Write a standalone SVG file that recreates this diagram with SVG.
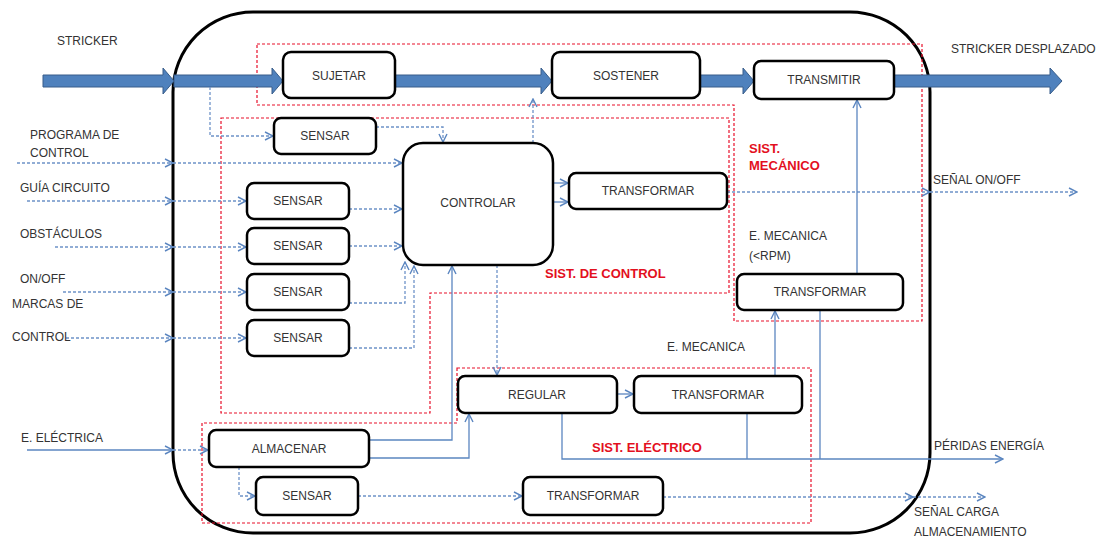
<svg xmlns="http://www.w3.org/2000/svg" width="1113" height="540" viewBox="0 0 1113 540">
<style>
.box{fill:#fff;stroke:#000;stroke-width:2.5}
.t{font-family:"Liberation Sans",Arial,sans-serif;font-size:12px;fill:#333}
.c{text-anchor:middle}
.red{font-family:"Liberation Sans",Arial,sans-serif;font-size:13px;font-weight:bold;fill:#E3101E}
.reg{fill:none;stroke:#E8102A;stroke-width:1.2;stroke-dasharray:3 2}
.sl{fill:none;stroke:#5B86C0;stroke-width:1.3}
.dl{fill:none;stroke:#6E93C8;stroke-width:1.3;stroke-dasharray:3 2}
.big{fill:#4F81BD;stroke:#385D8A;stroke-width:1}
</style>
<defs>
<marker id="ah" viewBox="0 0 10 10" refX="9" refY="5" markerWidth="10" markerHeight="10" markerUnits="userSpaceOnUse" orient="auto"><path d="M1,1 L9,5 L1,9" fill="none" stroke="#5B86C0" stroke-width="1.4"/></marker>
</defs>
<rect width="1113" height="540" fill="#fff"/>
<!-- outer boundary -->
<rect id="system" x="173" y="12" width="757" height="521" rx="80" ry="80" fill="none" stroke="#000" stroke-width="3"/>
<!-- subsystem regions -->
<g id="regions">
<path class="reg" d="M257,44 H922 V321 H734 V105 H257 Z"/>
<path class="reg" d="M221,118 H729 V293 H430 V413 H221 Z"/>
<path class="reg" d="M457,368 H811 V523 H202 V423 H457 Z"/>
<text class="red" x="749" y="153">SIST.</text>
<text class="red" x="749" y="170">MECÁNICO</text>
<text class="red" x="545" y="278">SIST. DE CONTROL</text>
<text class="red" x="592" y="452">SIST. ELÉCTRICO</text>
</g>
<!-- big stricker arrows -->
<g id="stricker-flow">
<path class="big" d="M43,75 H163 V68 L174,81 L163,94 V87 H43 Z"/>
<path class="big" d="M174,75 H272 V68 L283,81 L272,94 V87 H174 Z"/>
<path class="big" d="M395,75 H541 V68 L552,81 L541,94 V87 H395 Z"/>
<path class="big" d="M700,75 H743 V68 L754,81 L743,94 V87 H700 Z"/>
<path class="big" d="M894,75 H1050 V68 L1062,81 L1050,94 V87 H894 Z"/>
</g>
<!-- connectors -->
<g id="connectors">
<path class="dl" d="M210,87 V136 H273" marker-end="url(#ah)"/>
<path class="dl" d="M17,163 H173" marker-end="url(#ah)"/>
<path class="dl" d="M173,163 H402" marker-end="url(#ah)"/>
<path class="dl" d="M376,127 H443 V142" marker-end="url(#ah)"/>
<path class="dl" d="M27,201 H173" marker-end="url(#ah)"/>
<path class="dl" d="M173,201 H246" marker-end="url(#ah)"/>
<path class="dl" d="M55,247 H173" marker-end="url(#ah)"/>
<path class="dl" d="M173,247 H246" marker-end="url(#ah)"/>
<path class="dl" d="M63,292 H173" marker-end="url(#ah)"/>
<path class="dl" d="M173,292 H246" marker-end="url(#ah)"/>
<path class="dl" d="M66,338 H173" marker-end="url(#ah)"/>
<path class="dl" d="M173,338 H246" marker-end="url(#ah)"/>
<path class="dl" d="M349,209 H402" marker-end="url(#ah)"/>
<path class="dl" d="M349,246 H402" marker-end="url(#ah)"/>
<path class="dl" d="M349,303 H405 V262" marker-end="url(#ah)"/>
<path class="dl" d="M349,348 H414 V266" marker-end="url(#ah)"/>
<path class="dl" d="M533,143 V99" marker-end="url(#ah)"/>
<path class="sl" d="M553,183 H568" marker-end="url(#ah)"/>
<path class="sl" d="M553,202 H568" marker-end="url(#ah)"/>
<path class="dl" d="M727,192 H930" marker-end="url(#ah)"/>
<path class="dl" d="M930,192 H1077" marker-end="url(#ah)"/>
<path class="dl" d="M497,265 V375" marker-end="url(#ah)"/>
<path class="sl" d="M27,450 H173" marker-end="url(#ah)"/>
<path class="dl" d="M173,450 H208" marker-end="url(#ah)"/>
<path class="dl" d="M239,467 V496 H255" marker-end="url(#ah)"/>
<path class="dl" d="M358,496 H522" marker-end="url(#ah)"/>
<path class="dl" d="M663,497 H913" marker-end="url(#ah)"/>
<path class="dl" d="M913,497 H985" marker-end="url(#ah)"/>
<path class="sl" d="M369,440 H452 V266" marker-end="url(#ah)"/>
<path class="sl" d="M369,458 H469 V414" marker-end="url(#ah)"/>
<path class="sl" d="M617,394 H633" marker-end="url(#ah)"/>
<path class="sl" d="M562,413 V459 H1003" marker-end="url(#ah)"/>
<path class="sl" d="M747,413 V459"/>
<path class="sl" d="M820,310 V459"/>
<path class="sl" d="M775,376 V311" marker-end="url(#ah)"/>
<path class="sl" d="M857,274 V100" marker-end="url(#ah)"/>
</g>
<!-- nodes -->
<g id="n-sujetar"><rect class="box" x="283" y="52" width="112" height="46" rx="8"/><text class="t c" x="339" y="80">SUJETAR</text></g>
<g id="n-sostener"><rect class="box" x="552" y="52" width="148" height="46" rx="8"/><text class="t c" x="626" y="80">SOSTENER</text></g>
<g id="n-transmitir"><rect class="box" x="754" y="61" width="140" height="38" rx="7"/><text class="t c" x="824" y="84">TRANSMITIR</text></g>
<g id="n-sensar0"><rect class="box" x="274" y="118" width="102" height="36" rx="7"/><text class="t c" x="325" y="140">SENSAR</text></g>
<g id="n-controlar"><rect class="box" x="403" y="143" width="150" height="122" rx="20"/><text class="t c" x="478" y="207">CONTROLAR</text></g>
<g id="n-transformar-ctl"><rect class="box" x="569" y="173" width="158" height="36" rx="7"/><text class="t c" x="648" y="195">TRANSFORMAR</text></g>
<g id="n-sensar1"><rect class="box" x="247" y="183" width="102" height="36" rx="7"/><text class="t c" x="298" y="205">SENSAR</text></g>
<g id="n-sensar2"><rect class="box" x="247" y="228" width="102" height="36" rx="7"/><text class="t c" x="298" y="250">SENSAR</text></g>
<g id="n-sensar3"><rect class="box" x="247" y="274" width="102" height="36" rx="7"/><text class="t c" x="298" y="296">SENSAR</text></g>
<g id="n-sensar4"><rect class="box" x="247" y="320" width="102" height="36" rx="7"/><text class="t c" x="298" y="342">SENSAR</text></g>
<g id="n-transformar-mec"><rect class="box" x="737" y="274" width="166" height="36" rx="7"/><text class="t c" x="820" y="296">TRANSFORMAR</text></g>
<g id="n-regular"><rect class="box" x="458" y="376" width="159" height="37" rx="7"/><text class="t c" x="537" y="399">REGULAR</text></g>
<g id="n-transformar-ele"><rect class="box" x="634" y="376" width="168" height="37" rx="7"/><text class="t c" x="718" y="399">TRANSFORMAR</text></g>
<g id="n-almacenar"><rect class="box" x="209" y="430" width="160" height="37" rx="7"/><text class="t c" x="289" y="453">ALMACENAR</text></g>
<g id="n-sensar5"><rect class="box" x="256" y="477" width="102" height="38" rx="7"/><text class="t c" x="307" y="500">SENSAR</text></g>
<g id="n-transformar-bot"><rect class="box" x="523" y="477" width="140" height="38" rx="7"/><text class="t c" x="593" y="500">TRANSFORMAR</text></g>
<!-- labels -->
<g id="labels">
<text class="t" x="57" y="45">STRICKER</text>
<text class="t" x="951" y="53">STRICKER DESPLAZADO</text>
<text class="t" x="30" y="139">PROGRAMA DE</text>
<text class="t" x="30" y="157">CONTROL</text>
<text class="t" x="20" y="192">GUÍA CIRCUITO</text>
<text class="t" x="20" y="238">OBSTÁCULOS</text>
<text class="t" x="20" y="283">ON/OFF</text>
<text class="t" x="12" y="308">MARCAS DE</text>
<text class="t" x="12" y="341">CONTROL</text>
<text class="t" x="21" y="442">E. ELÉCTRICA</text>
<text class="t" x="933" y="184">SEÑAL ON/OFF</text>
<text class="t" x="749" y="240">E. MECANICA</text>
<text class="t" x="749" y="260">(&lt;RPM)</text>
<text class="t" x="667" y="351">E. MECANICA</text>
<text class="t" x="934" y="450">PÉRIDAS ENERGÍA</text>
<text class="t" x="914" y="516">SEÑAL CARGA</text>
<text class="t" x="914" y="536">ALMACENAMIENTO</text>
</g>
</svg>
